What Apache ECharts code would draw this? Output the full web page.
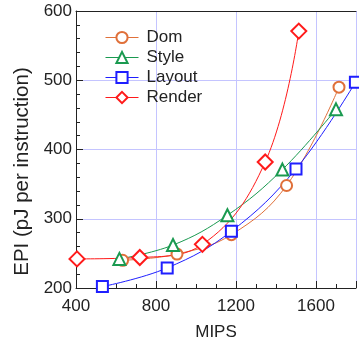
<!DOCTYPE html>
<html>
<head>
<meta charset="utf-8">
<script src="https://cdn.jsdelivr.net/npm/echarts@6/dist/echarts.min.js"></script>
<style>
  html, body { margin: 0; padding: 0; background: #fff; }
  #chart { width: 359px; height: 346px; }
</style>
</head>
<body>
<div id="chart"></div>
<script>
  // values: [MIPS, EPI]
  var seriesNames = ['Dom', 'Style', 'Layout', 'Render'];
  var domData = [[633, 240], [905, 249], [1177, 277], [1453, 348], [1715, 490]];
  var styleData = [[617, 242], [885, 262], [1157, 305], [1432, 371], [1700, 458]];
  var layoutData = [[532, 202], [856, 229], [1177, 282], [1500, 372], [1797, 497]];
  var renderData = [[405, 242], [719, 244], [1032, 263], [1346, 382], [1514, 571]];

  var myChart = echarts.init(document.getElementById('chart'));
  var font = 'Liberation Sans, Arial, sans-serif';
  var textColor = '#222';
  var gridColor = '#c4c4ff';

  function lineSeries(name, data, color, symbol, size) {
    return {
      name: name,
      type: 'line',
      smooth: 0.4,
      data: data,
      symbol: symbol,
      symbolSize: size,
      showAllSymbol: true,
      clip: false,
      lineStyle: { color: color, width: 1 },
      itemStyle: { color: color, borderColor: color, borderWidth: 1 },
      emphasis: { disabled: true }
    };
  }

  var option = {
    backgroundColor: '#fff',
    animation: false,
    textStyle: { fontFamily: font },
    legend: {
      data: seriesNames,
      orient: 'vertical',
      left: 100,
      top: 24,
      itemWidth: 33,
      itemHeight: 14,
      itemGap: 3,
      itemStyle: { borderWidth: 1 },
      lineStyle: { width: 1 },
      textStyle: { color: textColor, fontSize: 17, fontFamily: font, padding: [0, 0, 0, 3] }
    },
    grid: { left: 76, right: 0, top: 11, bottom: 51 },
    xAxis: [{
      type: 'value',
      min: 400,
      max: 1800,
      interval: 400,
      name: 'MIPS',
      nameLocation: 'middle',
      nameGap: 36,
      nameTextStyle: { color: textColor, fontSize: 17, fontFamily: font },
      axisLine: { show: true, lineStyle: { color: '#222', width: 1 } },
      axisTick: { show: true, inside: true, length: 7, lineStyle: { color: '#222' } },
      minorTick: { show: true, splitNumber: 4, length: 4, lineStyle: { color: '#222' } },
      axisLabel: { color: textColor, fontSize: 17, fontFamily: font, margin: 10,
        formatter: function (v) { return v === 1800 ? '' : v; } },
      splitLine: { show: true, lineStyle: { color: gridColor, width: 1 } }
    }, {
      type: 'value',
      position: 'top',
      min: 400,
      max: 1800,
      axisLine: { show: true, lineStyle: { color: '#222', width: 1 } },
      axisTick: { show: false },
      axisLabel: { show: false },
      splitLine: { show: false }
    }],
    yAxis: {
      type: 'value',
      min: 200,
      max: 600,
      interval: 100,
      name: 'EPI (pJ per instruction)',
      nameLocation: 'middle',
      nameGap: 39,
      nameTextStyle: { color: textColor, fontSize: 20.5, fontFamily: font, padding: [0, 44, 0, 0] },
      axisLine: { show: true, lineStyle: { color: '#222', width: 1 } },
      axisTick: { show: true, inside: true, length: 7, lineStyle: { color: '#222' } },
      minorTick: { show: true, splitNumber: 5, length: 4, lineStyle: { color: '#222' } },
      axisLabel: { color: textColor, fontSize: 17, fontFamily: font, margin: 4 },
      splitLine: { show: true, lineStyle: { color: gridColor, width: 1 } }
    },
    series: [
      lineSeries('Dom', domData, '#e0703a', 'emptyCircle', 11),
      lineSeries('Style', styleData, '#1a9a50', 'emptyTriangle', 12),
      lineSeries('Layout', layoutData, '#1f1fff', 'emptyRect', 11),
      lineSeries('Render', renderData, '#ff1a1a', 'emptyDiamond', 15)
    ]
  };

  option && myChart.setOption(option);
</script>
</body>
</html>
